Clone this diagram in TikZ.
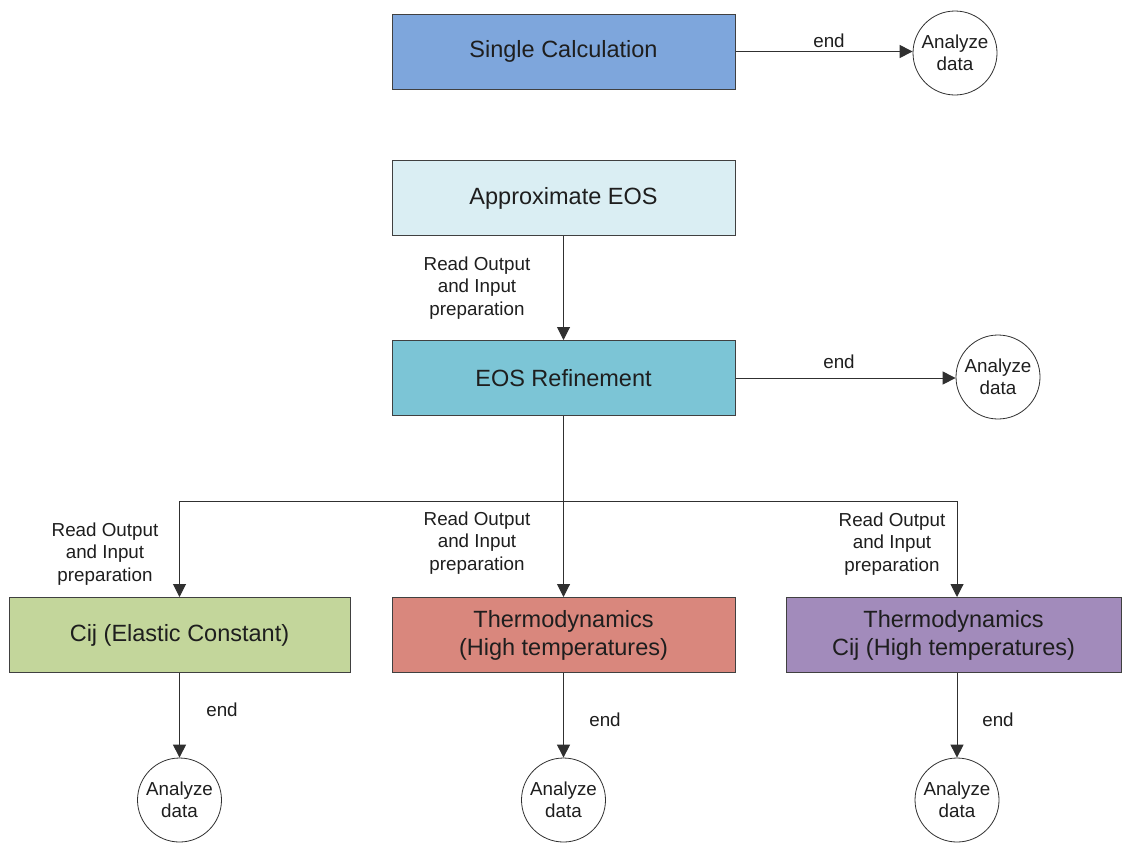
\documentclass[tikz,border=0pt]{standalone}
\usepackage{fontspec}
\setmainfont{Liberation Sans}
\usetikzlibrary{arrows.meta}

\definecolor{cSingle}{HTML}{7EA6DC}
\definecolor{cApprox}{HTML}{DAEEF3}
\definecolor{cRefine}{HTML}{7CC5D6}
\definecolor{cElastic}{HTML}{C3D69B}
\definecolor{cThermo}{HTML}{D9877D}
\definecolor{cThermoCij}{HTML}{A28BBB}
\definecolor{boxline}{HTML}{404040}
\definecolor{linec}{HTML}{303030}
\definecolor{txt}{HTML}{1E1E1E}

\begin{document}
\begin{tikzpicture}[x=1pt,y=-1pt,
  box/.style={draw=boxline, line width=1pt, minimum width=343pt, minimum height=75pt,
    inner sep=0pt, align=center, text=txt, font=\fontsize{23.5}{28}\selectfont},
  endcircle/.style={circle, draw=linec, line width=0.8pt, minimum size=84pt, inner sep=0pt,
    align=center, text=txt, fill=white, font=\fontsize{18.8}{22}\selectfont},
  lbl/.style={align=center, text=txt, font=\fontsize{18.8}{22.5}\selectfont},
  link/.style={draw=linec, line width=1pt},
  flow/.style={link, -{Triangle[length=13pt,width=13pt]}}]

\fill[white] (0,0) rectangle (1123,844);
\useasboundingbox (0,0) rectangle (1123,844);

% process boxes
\node[box, fill=cSingle] (single) at (563.5,51.5) {Single Calculation};
\node[box, fill=cApprox] (approx) at (563.5,198) {Approximate EOS};
\node[box, fill=cRefine] (refine) at (563.5,378) {EOS Refinement};
\node[box, fill=cElastic, minimum width=341pt] (elastic) at (179.5,635) {Cij (Elastic Constant)};
\node[box, fill=cThermo] (thermo) at (563.5,635) {Thermodynamics\\(High temperatures)};
\node[box, fill=cThermoCij, minimum width=335pt] (thermocij) at (953.5,635) {Thermodynamics\\Cij (High temperatures)};

% analysis end points
\node[endcircle] (a1) at (955,53) {Analyze\\data};
\node[endcircle] (a2) at (998,377) {Analyze\\data};
\node[endcircle] (a3) at (179.5,800) {Analyze\\data};
\node[endcircle] (a4) at (563.5,800) {Analyze\\data};
\node[endcircle] (a5) at (957,800) {Analyze\\data};

% single calculation
\draw[flow] (single.east) -- (single.east -| a1.west);
\node[lbl] (e1) at (829,41) {end};

% EOS chain
\draw[flow] (approx.south) -- (refine.north);
\node[lbl] (r0) at (477,288) {Read Output\\and Input\\preparation};
\draw[flow] (refine.east) -- (refine.east -| a2.west);
\node[lbl] (e2) at (839,362) {end};

% branching to the three calculations
\coordinate (split) at (563.5,501);
\coordinate (bl) at (179.5,501);
\coordinate (br) at (957,501);
\draw[link] (refine.south) -- (split);
\draw[flow] (split) -- (bl) -- (elastic.north);
\draw[flow] (split) -- (thermo.north);
\draw[flow] (split) -- (br) -- (br |- thermocij.north);
\node[lbl] (r1) at (105,554) {Read Output\\and Input\\preparation};
\node[lbl] (r2) at (477,543) {Read Output\\and Input\\preparation};
\node[lbl] (r3) at (892,544) {Read Output\\and Input\\preparation};

% final analysis
\draw[flow] (elastic.south) -- (a3.north);
\draw[flow] (thermo.south) -- (a4.north);
\draw[flow] (thermocij.south -| a5) -- (a5.north);
\node[lbl] (e3) at (222,710) {end};
\node[lbl] (e4) at (605,720) {end};
\node[lbl] (e5) at (998,720) {end};
\end{tikzpicture}
\end{document}
